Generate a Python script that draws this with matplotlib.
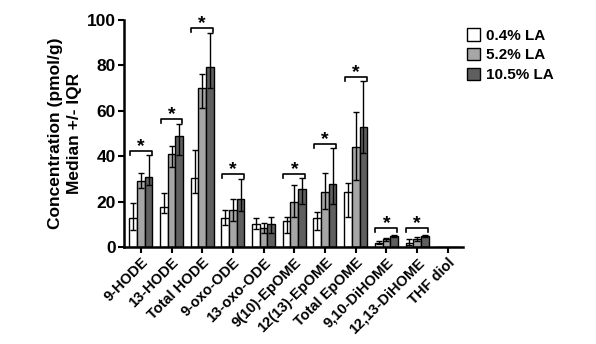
import matplotlib
matplotlib.use("Agg")
import matplotlib.pyplot as plt
import numpy as np

plt.rcParams["font.family"] = ["Liberation Sans", "DejaVu Sans"]
plt.rcParams["font.weight"] = "bold"

analytes = ["9-HODE", "13-HODE", "Total HODE", "9-oxo-ODE", "13-oxo-ODE",
            "9(10)-EpOME", "12(13)-EpOME", "Total EpOME", "9,10-DiHOME",
            "12,13-DiHOME", "THF diol"]
diets = ["0.4% LA", "5.2% LA", "10.5% LA"]

# medians with lower / upper quartiles, pmol/g
med_04 = [12.9, 17.8, 30.3, 12.6, 10.1, 11.6, 12.6, 24.1, 1.9, 1.6, 0]
q1_04 = [7.5, 15.0, 23.6, 9.7, 7.8, 6.0, 7.5, 13.3, 1.2, 1.0, 0]
q3_04 = [19.4, 23.9, 42.7, 16.3, 12.6, 13.0, 15.6, 28.3, 2.6, 3.4, 0]
med_52 = [29.0, 41.0, 69.9, 16.3, 8.2, 20.0, 24.4, 43.9, 3.4, 3.5, 0]
q1_52 = [26.0, 35.4, 61.1, 11.6, 6.0, 13.0, 16.6, 29.5, 2.6, 2.8, 0]
q3_52 = [32.6, 44.5, 76.2, 21.0, 10.7, 27.3, 32.5, 59.3, 4.0, 4.2, 0]
med_105 = [31.0, 48.9, 79.4, 21.1, 10.1, 25.4, 27.6, 52.7, 4.8, 4.8, 0]
q1_105 = [27.3, 40.5, 69.9, 16.0, 6.0, 18.9, 18.9, 41.3, 4.2, 4.2, 0]
q3_105 = [40.5, 54.2, 94.4, 30.0, 13.3, 30.3, 43.5, 73.1, 5.4, 5.4, 0]

# significance bracket heights (None = no significant trend)
sig_y = [42.4, 56.5, 96.3, 32.2, None, 32.2, 45.2, 75.0, 8.2, 8.2, None]

colors = ["#ffffff", "#a6a6a6", "#5f5f5f"]

fig = plt.figure(figsize=(5.96, 3.44), dpi=100)
ax = fig.add_axes([0.208, 0.282, 0.569, 0.660])

x = np.arange(len(analytes))
w = 0.25
series = [(med_04, q1_04, q3_04), (med_52, q1_52, q3_52), (med_105, q1_105, q3_105)]
for k, (med, lo, hi) in enumerate(series):
    med = np.array(med); lo = np.array(lo); hi = np.array(hi)
    xs = x + (k - 1) * w
    ax.bar(xs, med, width=w, color=colors[k], edgecolor="black", lw=1.0,
           label=diets[k], zorder=2)
    has = med > 0
    ax.errorbar(xs[has], med[has], yerr=[med[has] - lo[has], hi[has] - med[has]],
                fmt="none", ecolor="black", elinewidth=1.0, capsize=2,
                capthick=1.0, zorder=3)

for i, yb in enumerate(sig_y):
    if yb is None:
        continue
    x0, x1 = i - 1.5 * w + 0.02, i + 1.5 * w - 0.02
    ax.plot([x0, x0, x1, x1], [yb - 1.8, yb, yb, yb - 1.8], color="black",
            lw=1.2, zorder=3)
    ax.text(i, yb - 1.8, "*", ha="center", va="bottom", fontsize=14,
            fontweight="bold")

ax.set_xlim(-0.55, 10.5)
ax.set_ylim(0, 100)
ax.set_yticks([0, 20, 40, 60, 80, 100])
ax.set_xticks(x)
ax.set_xticklabels(analytes, rotation=45, ha="right", rotation_mode="anchor",
                   fontsize=10.5, fontweight="bold")
for lab in ax.get_yticklabels():
    lab.set_fontsize(12.5)
    lab.set_fontweight("bold")
ax.tick_params(axis="both", direction="out", length=4, width=1.5, pad=2)
for s in ["top", "right"]:
    ax.spines[s].set_visible(False)
for s in ["left", "bottom"]:
    ax.spines[s].set_linewidth(1.8)

ax.set_ylabel("Concentration (pmol/g)\nMedian +/- IQR", fontsize=12.5,
              fontweight="bold", labelpad=3, linespacing=1.4)

leg = ax.legend(loc="upper left", bbox_to_anchor=(0.98, 1.01), frameon=False,
                fontsize=11, handlelength=0.85, handleheight=0.85,
                handletextpad=0.4, labelspacing=0.35, borderaxespad=0.3)
for t in leg.get_texts():
    t.set_fontweight("bold")

fig.savefig("out.png", dpi=100, facecolor="white")
